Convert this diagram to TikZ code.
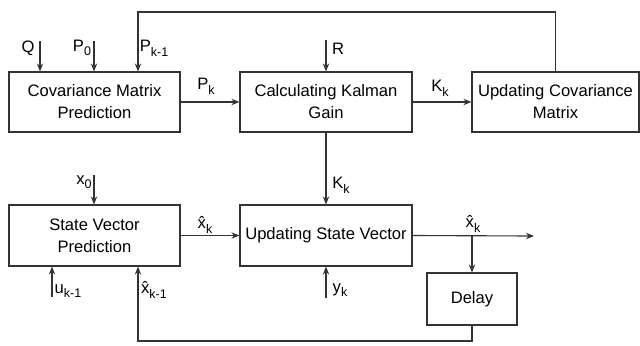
\documentclass[tikz,border=0pt]{standalone}
\usepackage{fontspec}
\setmainfont{Liberation Sans}
\usetikzlibrary{arrows.meta,calc}
\newcommand{\lowsub}[1]{\raisebox{-3.3pt}{\fontsize{8.9}{10}\selectfont #1}}
\tikzset{
  blockbox/.style = {draw=black!80, line width=0.8pt, align=center, minimum height=1.5cm, inner sep=2pt},
  sigline/.style  = {-{Stealth[length=2mm,width=1.6mm]}, line width=0.8pt, black!80},
  siglbl/.style   = {inner sep=0pt}
}

\begin{document}
\begin{tikzpicture}[x=0.025cm, y=-0.025cm, font=\fontsize{11.8}{15.6}\selectfont]
  \useasboundingbox (0,0) rectangle (640,345);
  % blocks
  \node[blockbox, minimum width=4.275cm] (cmp) at (94.5,102) {Covariance Matrix\\Prediction};
  \node[blockbox, minimum width=4.3cm] (ckg) at (326,102) {Calculating Kalman\\Gain};
  \node[blockbox, minimum width=4.175cm] (ucm) at (555.5,102) {Updating Covariance\\Matrix};
  \node[blockbox, minimum width=4.275cm, minimum height=1.525cm] (svp) at (94.5,235.5) {State Vector\\Prediction};
  \node[blockbox, minimum width=4.3cm, minimum height=1.525cm] (usv) at (326,235.5) {Updating State Vector};
  \node[blockbox, minimum width=2.25cm, minimum height=1.3cm] (delay) at (472,299) {Delay};
  % free ends
  \coordinate (qin) at (40,41);
  \coordinate (p0in) at (94,41);
  \coordinate (rin) at (326,40);
  \coordinate (x0in) at (94,175);
  \coordinate (uin) at (52,297);
  \coordinate (yin) at (326,298);
  \coordinate (xout) at (534,236);
  \coordinate (fbtop) at (138,12);
  \coordinate (fbbot) at (138,341);
  \coordinate (branch) at (delay.north |- usv.east);
  % inputs
  \draw[sigline] (qin) -- (qin |- cmp.north);
  \draw[sigline] (p0in) -- (p0in |- cmp.north);
  \draw[sigline] (rin) -- (ckg.north);
  \draw[sigline] (x0in) -- (x0in |- svp.north);
  \draw[sigline] (uin) -- (uin |- svp.south);
  \draw[sigline] (yin) -- (usv.south);
  % main flow
  \draw[sigline] (cmp) -- (ckg);
  \draw[sigline] (ckg) -- (ucm);
  \draw[sigline] (ckg) -- (usv);
  \draw[sigline] (svp) -- (usv);
  \draw[sigline] (usv.east) -- (xout);
  \draw[sigline] (branch) -- (delay.north);
  % feedback
  \draw[sigline] (ucm.north) |- (fbtop) -- (fbtop |- cmp.north);
  \draw[sigline] (delay.south) |- (fbbot) -- (fbbot |- svp.south);
  % labels
  \node[siglbl] (lq) at (28,48) {Q};
  \node[siglbl] (lp0) at (82,48) {P\lowsub{0}};
  \node[siglbl] (lpk1) at (154,48) {P\lowsub{k-1}};
  \node[siglbl] (lpk) at (206,86) {P\lowsub{k}};
  \node[siglbl] (lr) at (338,49) {R};
  \node[siglbl] (lkk) at (440,88) {K\lowsub{k}};
  \node[siglbl] (lkk2) at (341,185) {K\lowsub{k}};
  \node[siglbl] (lx0) at (84,182) {x\lowsub{0}};
  \node[siglbl] (lxk) at (205,225) {\^x\lowsub{k}};
  \node[siglbl] (lxk2) at (473,224) {\^x\lowsub{k}};
  \node[siglbl] (lu) at (68,291) {u\lowsub{k-1}};
  \node[siglbl] (lxk1) at (154,290) {\^x\lowsub{k-1}};
  \node[siglbl] (ly) at (340,290) {y\lowsub{k}};
\end{tikzpicture}
\end{document}
